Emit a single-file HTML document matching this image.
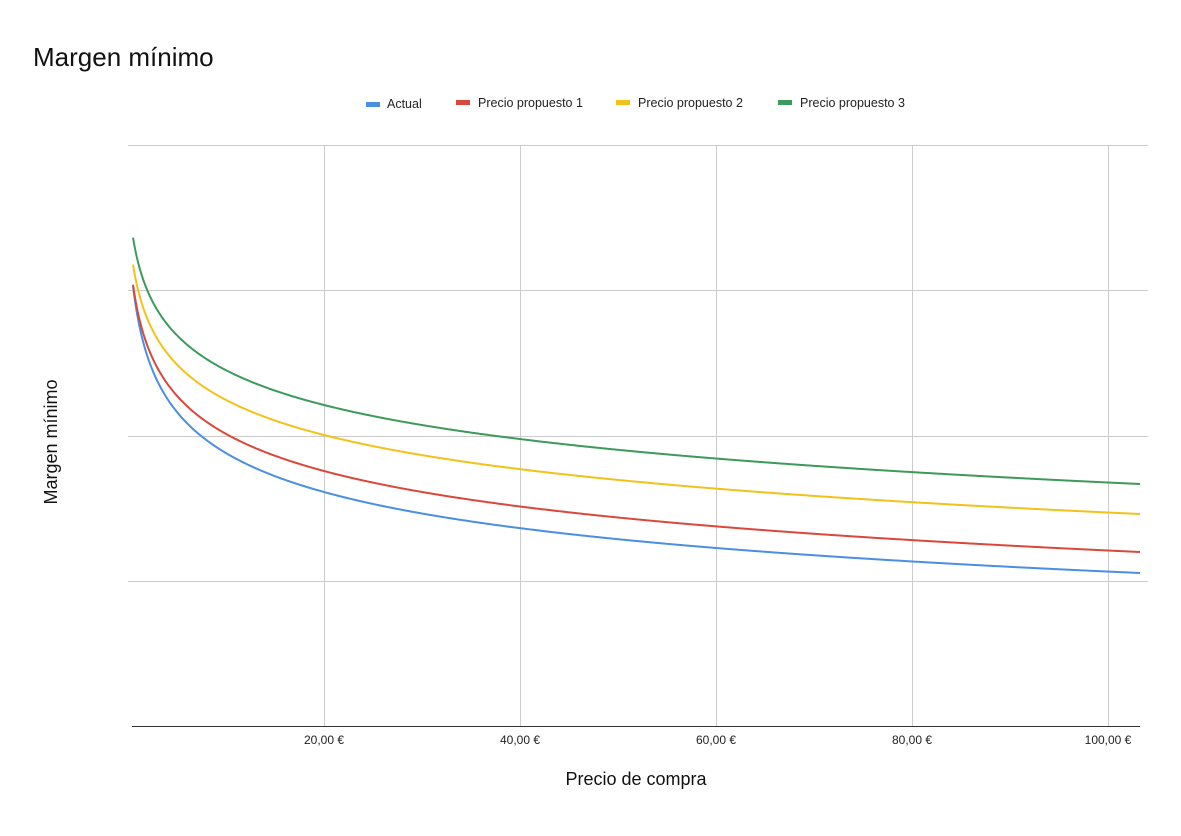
<!DOCTYPE html>
<html><head><meta charset="utf-8"><style>
body{margin:0;background:#fff;font-family:"Liberation Sans",sans-serif}
</style></head><body>
<svg width="1181" height="831" xmlns="http://www.w3.org/2000/svg" font-family="Liberation Sans, sans-serif">
<text x="33" y="66" font-size="26" fill="#111">Margen mínimo</text>
<g font-size="12.5" fill="#222">
<rect x="366" y="102" width="14" height="5" fill="#4a8fe0"/><text x="387" y="108">Actual</text>
<rect x="456" y="100" width="14" height="5" fill="#d9483b"/><text x="478" y="107">Precio propuesto 1</text>
<rect x="616" y="100" width="14" height="5" fill="#f2c21b"/><text x="638" y="107">Precio propuesto 2</text>
<rect x="778" y="100" width="14" height="5" fill="#3c9a5a"/><text x="800" y="107">Precio propuesto 3</text>
</g>
<g stroke="#ccc" stroke-width="1">
<line x1="128" y1="145.5" x2="1148" y2="145.5"/>
<line x1="128" y1="290.5" x2="1148" y2="290.5"/>
<line x1="128" y1="436.5" x2="1148" y2="436.5"/>
<line x1="128" y1="581.5" x2="1148" y2="581.5"/>
<line x1="324.5" y1="145" x2="324.5" y2="726"/>
<line x1="520.5" y1="145" x2="520.5" y2="726"/>
<line x1="716.5" y1="145" x2="716.5" y2="726"/>
<line x1="912.5" y1="145" x2="912.5" y2="726"/>
<line x1="1108.5" y1="145" x2="1108.5" y2="726"/>
</g>
<line x1="132" y1="726.5" x2="1140" y2="726.5" stroke="#333" stroke-width="1"/>
<g font-size="12" fill="#222" text-anchor="middle">
<text x="324" y="744">20,00 €</text><text x="520" y="744">40,00 €</text><text x="716" y="744">60,00 €</text><text x="912" y="744">80,00 €</text><text x="1108" y="744">100,00 €</text>
</g>
<text x="636" y="785" font-size="18" text-anchor="middle" fill="#111">Precio de compra</text>
<text transform="translate(57,442) rotate(-90)" font-size="18" text-anchor="middle" fill="#111">Margen mínimo</text>
<g id="curves" fill="none" stroke-width="2" stroke-linejoin="round"></g>
</svg>
<script>
function X(px){return (px-128)/9.8+0.5;}
var S=[["#4a8fe0",285,492,573],["#d9483b",284,471,552],["#f2c21b",264,435,514],["#3c9a5a",237,405,484]];
var g=document.getElementById("curves");
var x20=X(324),x103=X(1140);
S.forEach(function(s){
 var r=(s[2]-s[1])/(s[3]-s[2]);
 var lo=0.005,hi=1.5,p;
 for(var k=0;k<60;k++){p=(lo+hi)/2;var v=(1-Math.pow(x20,-p))/(Math.pow(x20,-p)-Math.pow(x103,-p));if(v<r)lo=p;else hi=p;}
 var B=(s[2]-s[1])/(1-Math.pow(x20,-p));var A=s[1]+B;
 var d="";
 for(var px=133;px<=1140;px+=1){var y=A-B*Math.pow(X(px),-p);d+=(d?" L":"M")+px+","+y.toFixed(2);}
 var e=document.createElementNS("http://www.w3.org/2000/svg","path");
 e.setAttribute("d",d);e.setAttribute("stroke",s[0]);g.appendChild(e);
});
</script>
</body></html>
